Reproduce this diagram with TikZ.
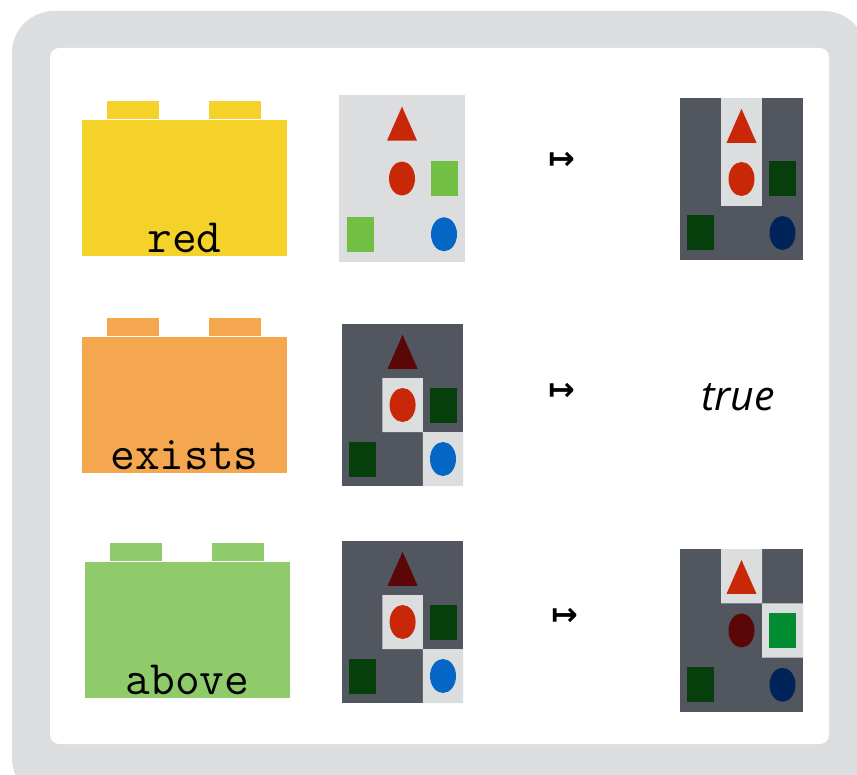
\documentclass[tikz,border=0pt]{standalone}
\usepackage{fontspec}
\newfontfamily\valfont{Open Sans}
\newfontfamily\arrowfont{DejaVu Sans}
\usetikzlibrary{shapes.geometric,positioning}

\definecolor{framegray}{HTML}{DCDDDF}
\definecolor{celllight}{HTML}{DCDDDF}
\definecolor{celldark}{HTML}{52575F}
\definecolor{redhi}{HTML}{C92808}
\definecolor{redlo}{HTML}{5B0708}
\definecolor{limehi}{HTML}{72C043}
\definecolor{greenhi}{HTML}{028B30}
\definecolor{greenlo}{HTML}{063F0B}
\definecolor{bluehi}{HTML}{0467C6}
\definecolor{bluelo}{HTML}{00245A}
\definecolor{legoyellow}{HTML}{F5D22A}
\definecolor{legoorange}{HTML}{F4A74E}
\definecolor{legogreen}{HTML}{8FCB6A}

\begin{document}
\begin{tikzpicture}[x=0.5pt, y=-0.5pt,
  brick/.style={minimum width=102.5pt, minimum height=68pt, inner sep=0pt},
  stud/.style={minimum width=26pt, minimum height=9pt, inner sep=0pt},
  word/.style={font=\ttfamily\fontsize{24}{24}\selectfont, inner sep=0pt, anchor=base},
  sq/.style={rectangle, minimum width=13.5pt, minimum height=17.5pt, inner sep=0pt},
  oval/.style={ellipse, minimum width=13pt, minimum height=17pt, inner sep=0pt},
  tri/.style={isosceles triangle, isosceles triangle stretches, shape border rotate=90,
              minimum width=15pt, minimum height=17pt, inner sep=0pt, yshift=-4pt},
  maps/.style={font=\arrowfont\bfseries\fontsize{16}{16}\selectfont, inner sep=0pt}
]
\useasboundingbox (0,0) rectangle (857,775);
\fill[framegray, rounded corners=21pt] (12,11) rectangle (866,800);
\fill[white, rounded corners=4.5pt] (50,48) rectangle (829,744);

% bricks
\node[brick, fill=legoyellow] (redbrick) at (184.5,188) {};
\node[stud, fill=legoyellow, above right=0pt and 12.5pt of redbrick.north west] (redstudL) {};
\node[stud, fill=legoyellow, above left=0pt and 13pt of redbrick.north east] (redstudR) {};
\node[word, yshift=2pt] (redword) at (redbrick.south) {red};

\node[brick, fill=legoorange] (existsbrick) at (184.5,405) {};
\node[stud, fill=legoorange, above right=0pt and 12.5pt of existsbrick.north west] (existsstudL) {};
\node[stud, fill=legoorange, above left=0pt and 13pt of existsbrick.north east] (existsstudR) {};
\node[word, yshift=2pt] (existsword) at (existsbrick.south) {exists};

\node[brick, fill=legogreen] (abovebrick) at (187.5,630) {};
\node[stud, fill=legogreen, above right=0pt and 12.5pt of abovebrick.north west] (abovestudL) {};
\node[stud, fill=legogreen, above left=0pt and 13pt of abovebrick.north east] (abovestudR) {};
\node[word, yshift=2pt] (aboveword) at (abovebrick.south) {above};

% input grids
\begin{scope}[shift={(339,95)}, x=21pt, y=-27.85pt]
  \fill[celllight] (0,0) rectangle (3,3);
  \node[tri, fill=redhi] (redtri) at (1.5,0.5) {};
  \node[oval, fill=redhi] (redoval) at (1.5,1.5) {};
  \node[sq, fill=limehi] (redsqA) at (2.5,1.5) {};
  \node[sq, fill=limehi] (redsqB) at (0.5,2.5) {};
  \node[oval, fill=bluehi] (redovalB) at (2.5,2.5) {};
\end{scope}

\begin{scope}[shift={(342,324)}, x=20.2pt, y=-27pt]
  \fill[celldark] (0,0) rectangle (3,3);
  \fill[celllight] (1,1) rectangle (2,2) (2,2) rectangle (3,3);
  \node[tri, fill=redlo] (existstri) at (1.5,0.5) {};
  \node[oval, fill=redhi] (existsoval) at (1.5,1.5) {};
  \node[sq, fill=greenlo] (existssqA) at (2.5,1.5) {};
  \node[sq, fill=greenlo] (existssqB) at (0.5,2.5) {};
  \node[oval, fill=bluehi] (existsovalB) at (2.5,2.5) {};
\end{scope}

\begin{scope}[shift={(342,541)}, x=20.2pt, y=-27pt]
  \fill[celldark] (0,0) rectangle (3,3);
  \fill[celllight] (1,1) rectangle (2,2) (2,2) rectangle (3,3);
  \node[tri, fill=redlo] (abovetri) at (1.5,0.5) {};
  \node[oval, fill=redhi] (aboveoval) at (1.5,1.5) {};
  \node[sq, fill=greenlo] (abovesqA) at (2.5,1.5) {};
  \node[sq, fill=greenlo] (abovesqB) at (0.5,2.5) {};
  \node[oval, fill=bluehi] (aboveovalB) at (2.5,2.5) {};
\end{scope}

% maps-to
\node[maps] (redmap) at (562,161) {↦};
\node[maps] (existsmap) at (562,392) {↦};
\node[maps] (abovemap) at (565,617) {↦};

% results
\begin{scope}[shift={(680,98)}, x=20.5pt, y=-27pt]
  \fill[celldark] (0,0) rectangle (3,3);
  \fill[celllight] (1,0) rectangle (2,2);
  \node[tri, fill=redhi] (outredtri) at (1.5,0.5) {};
  \node[oval, fill=redhi] (outredoval) at (1.5,1.5) {};
  \node[sq, fill=greenlo] (outredsqA) at (2.5,1.5) {};
  \node[sq, fill=greenlo] (outredsqB) at (0.5,2.5) {};
  \node[oval, fill=bluelo] (outredovalB) at (2.5,2.5) {};
\end{scope}

\node[font=\valfont\itshape\fontsize{20.5}{20.5}\selectfont] (outexists) at (738,397) {true};

\begin{scope}[shift={(680,549)}, x=20.5pt, y=-27.15pt]
  \fill[celldark] (0,0) rectangle (3,3);
  \fill[celllight] (1,0) rectangle (2,1) (2,1) rectangle (3,2);
  \node[tri, fill=redhi] (outabovetri) at (1.5,0.5) {};
  \node[oval, fill=redlo] (outaboveoval) at (1.5,1.5) {};
  \node[sq, fill=greenhi] (outabovesqA) at (2.5,1.5) {};
  \node[sq, fill=greenlo] (outabovesqB) at (0.5,2.5) {};
  \node[oval, fill=bluelo] (outaboveovalB) at (2.5,2.5) {};
\end{scope}
\end{tikzpicture}
\end{document}
